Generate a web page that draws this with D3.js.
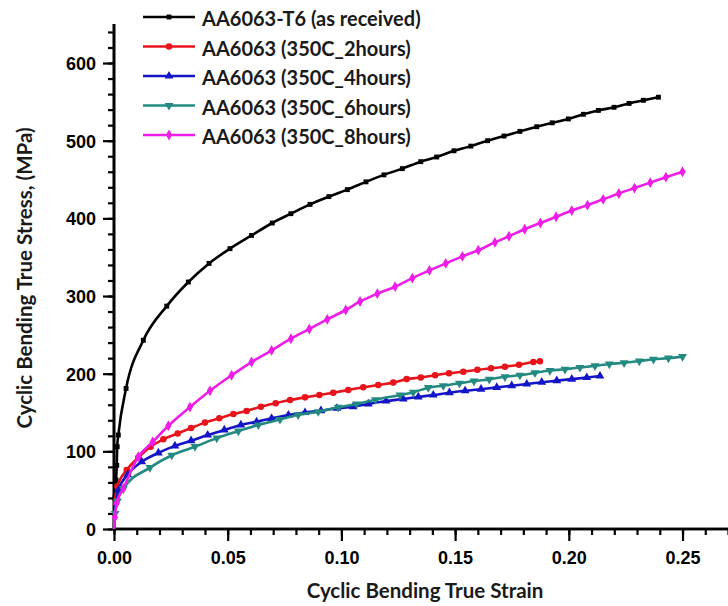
<!DOCTYPE html>
<html><head><meta charset="utf-8">
<script src="https://cdn.jsdelivr.net/npm/d3@7/dist/d3.min.js"></script>
<style>
html,body{margin:0;padding:0;background:#fff;}
svg{display:block;}
</style></head><body>
<svg id="chart" width="728" height="606"></svg>
<script>
const seriesNames = ["AA6063-T6 (as received)","AA6063 (350C_2hours)","AA6063 (350C_4hours)","AA6063 (350C_6hours)","AA6063 (350C_8hours)"];
const seriesColors = ["#000000","#e8141c","#1414c8","#238a82","#ee1ee8"];
const seriesMarkers = ["square","circle","triangle-up","triangle-down","diamond"];

const strainT6 = [0,0.0004,0.0009,0.0012,0.0014,0.0019,0.0053,0.0129,0.0232,0.0327,0.0418,0.051,0.0605,0.0696,0.0778,0.0862,0.0945,0.1026,0.1108,0.1187,0.1268,0.1349,0.1419,0.1495,0.1569,0.1643,0.1715,0.1785,0.1859,0.1927,0.1998,0.2064,0.213,0.2199,0.2265,0.2328,0.2394];
const stressT6 = [0,40,63,82,106,121,181,243,287,318,342,361,378,394,406,418,428,437,447,456,464,473,479,487,493,500,506,512,518,523,528,534,539,543,548,552,556];

const strain2h = [0,0.0015,0.0056,0.0107,0.0161,0.0217,0.028,0.0339,0.04,0.0463,0.0525,0.0583,0.0646,0.0711,0.0774,0.084,0.0903,0.0964,0.103,0.1096,0.1162,0.1228,0.1287,0.1349,0.1412,0.1473,0.1536,0.1598,0.1658,0.1719,0.1781,0.1844,0.1873];
const stress2h = [30,55,76,92,106,115.5,123,130,137,142.5,148,152,157.5,162,166,169.5,172.5,175.5,179,182.5,185.5,188.5,193,195,198,200.5,202.5,205,207,209,211.5,215,216];

const strain4h = [0,0.002,0.006,0.0122,0.0195,0.0268,0.0339,0.0412,0.0485,0.0558,0.0627,0.0693,0.0767,0.084,0.091,0.098,0.1052,0.1118,0.1196,0.1272,0.1338,0.1404,0.1475,0.1544,0.1614,0.1683,0.1749,0.1815,0.1881,0.1947,0.2013,0.2079,0.2137];
const stress4h = [20,50,70,86.6,98,107,113.7,121,127.5,134,138,142.5,146.8,150,152.3,155.4,157.5,161,164.8,167.4,170,172.5,175.5,178,180,182.4,184.5,186.7,189,191,193,195,197];

const strain6h = [0,0.0005,0.0015,0.0041,0.0158,0.0254,0.0356,0.0452,0.0547,0.0635,0.073,0.081,0.0898,0.0986,0.1067,0.115,0.1258,0.1316,0.1382,0.1448,0.1519,0.1583,0.165,0.1719,0.1785,0.1851,0.1917,0.1983,0.2049,0.2115,0.2178,0.2243,0.231,0.2372,0.2438,0.25];
const stress6h = [0,20,36,52,79,95,106,117,126,134,141,147,151,156.7,161,166.5,172.5,176,182,184.5,187.6,190.5,192.7,196,198,201,204,205.6,208,210,212.4,214,216.3,218.5,220,222];

const strain8h = [0,0.0004,0.0012,0.0041,0.0107,0.017,0.0239,0.0334,0.0422,0.0517,0.0605,0.0693,0.0778,0.0859,0.0938,0.1019,0.1082,0.1158,0.1236,0.1312,0.1387,0.1459,0.1532,0.1602,0.1675,0.1737,0.1806,0.1875,0.1944,0.2013,0.2082,0.2151,0.222,0.2289,0.2358,0.2427,0.25];
const stress8h = [0,15,33,52,93,112,133,157,178,198,215,230,245,257.5,270,282,293,303,312,323,333,342,351,359,369,377,386,394,402,410,417,424.5,432,439,446,453,460];

const xTicks = [0,0.05,0.10,0.15,0.20,0.25];
const yTicks = [0,100,200,300,400,500,600];

const series = [
  {x: strainT6, y: stressT6},
  {x: strain2h, y: stress2h},
  {x: strain4h, y: stress4h},
  {x: strain6h, y: stress6h},
  {x: strain8h, y: stress8h}
].map((s,i)=>({name: seriesNames[i], color: seriesColors[i], marker: seriesMarkers[i],
  pts: s.x.map((v,j)=>[v, s.y[j]])}));

const svg = d3.select("#chart");
const x = d3.scaleLinear().domain([0,0.27]).range([114,728]);
const y = d3.scaleLinear().domain([0,650]).range([529,24.2]);

const tickFont = "'Liberation Sans', Arial, sans-serif";
const titleFont = "Lato, 'Open Sans', sans-serif";

const xAxisMinor = d3.axisBottom(x).tickValues(d3.range(0,0.2705,0.01)).tickSize(6).tickFormat("");
const xAxisMajor = d3.axisBottom(x).tickValues(xTicks).tickSize(12).tickFormat(d3.format(".2f"));
const yAxisMinor = d3.axisLeft(y).tickValues(d3.range(0,651,20)).tickSize(6).tickFormat("");
const yAxisMajor = d3.axisLeft(y).tickValues(yTicks).tickSize(11).tickFormat(d3.format("d"));

function styleAxis(g){
  g.select(".domain").attr("stroke","#000").attr("stroke-width",2.6);
  g.selectAll(".tick line").attr("stroke","#000").attr("stroke-width",2.2);
  g.selectAll(".tick text").attr("fill","#000").style("font-family",tickFont)
    .style("font-weight","bold").style("font-size","18px");
}
const gx = svg.append("g").attr("transform","translate(0,529)");
gx.append("g").call(xAxisMinor).call(styleAxis);
gx.append("g").call(xAxisMajor).call(styleAxis);
gx.selectAll(".tick text").attr("dy","1.1em");
gx.selectAll(".domain").attr("d","M114,0H728");

const gy = svg.append("g").attr("transform","translate(114,0)");
gy.append("g").call(yAxisMinor).call(styleAxis);
gy.append("g").call(yAxisMajor).call(styleAxis);
gy.selectAll(".tick text").attr("x",-18).attr("dy","0.36em");
gy.selectAll(".domain").attr("d","M0,529V24");

// titles
svg.append("text").attr("x",425).attr("y",598).attr("text-anchor","middle")
  .style("font-family",titleFont).style("font-weight","bold").style("font-size","20.5px")
  .attr("fill","#1a1a1a").text("Cyclic Bending True Strain");
svg.append("text").attr("transform","translate(32,278) rotate(-90)").attr("text-anchor","middle")
  .style("font-family",titleFont).style("font-weight","bold").style("font-size","20.5px")
  .attr("fill","#1a1a1a").text("Cyclic Bending True Stress, (MPa)");

// lines
const line = d3.line().x(d=>x(d[0])).y(d=>y(d[1])).curve(d3.curveMonotoneX);
const symMap = {square: d3.symbolSquare, circle: d3.symbolCircle, "triangle-up": d3.symbolTriangle, "triangle-down": d3.symbolTriangle, diamond: d3.symbolDiamond};
function markerPath(m){ return d3.symbol().type(symMap[m]).size(m==="square"?24:34)(); }

const plot = svg.append("g");
series.forEach(s=>{
  plot.append("path").datum(s.pts).attr("d",line).attr("fill","none")
    .attr("stroke",s.color).attr("stroke-width",2.6).attr("stroke-linejoin","round");
  plot.selectAll(null).data(s.pts.slice(1)).enter().append("path")
    .attr("d",markerPath(s.marker))
    .attr("transform",d=>`translate(${x(d[0])},${y(d[1])})`+(s.marker==="triangle-down"?" rotate(180)":""))
    .attr("fill",s.color);
});

// legend
const leg = svg.append("g");
series.forEach((s,i)=>{
  const cy = 17 + i*29.5;
  leg.append("line").attr("x1",143).attr("x2",195).attr("y1",cy).attr("y2",cy)
    .attr("stroke",s.color).attr("stroke-width",2.6);
  leg.append("path").attr("d",markerPath(s.marker))
    .attr("transform",`translate(169,${cy})`+(s.marker==="triangle-down"?" rotate(180)":""))
    .attr("fill",s.color);
  leg.append("text").attr("x",202).attr("y",cy+2).attr("dy","0.35em")
    .style("font-family",titleFont).style("font-weight","bold").style("font-size","20px")
    .attr("fill","#1a1a1a").text(s.name);
});
</script>
</body></html>
